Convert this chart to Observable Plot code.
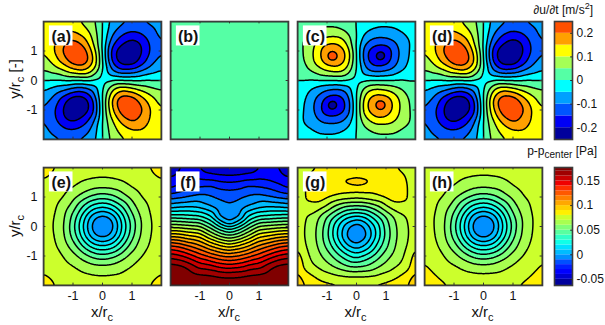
<!DOCTYPE html>
<html><head><meta charset="utf-8">
<script src="https://cdn.jsdelivr.net/npm/d3@7"></script>
<script src="https://cdn.jsdelivr.net/npm/@observablehq/plot@0.6"></script>
<style>
html,body{margin:0;padding:0;background:#fff;overflow:hidden}
#page{position:relative;width:605px;height:325px;font-family:"Liberation Sans",sans-serif;color:#111}
#page svg{position:absolute}
.lab{position:absolute;white-space:nowrap;line-height:1;font-size:15px}
.lab sub{font-size:11px;vertical-align:-4px;line-height:0}
.ttl{position:absolute;white-space:nowrap;line-height:1;font-size:12px;text-align:right}
.ttl sub{font-size:10px;vertical-align:-3px;line-height:0}
.ttl sup{font-size:9px;vertical-align:5px;line-height:0}
</style></head><body><div id="page"></div>
<script>
const xNodes=[-2,-5/3,-4/3,-1,-2/3,-1/3,0,1/3,2/3,1,4/3,5/3,2];
const yNodes=[2,5/3,4/3,1,2/3,1/3,0,-1/3,-2/3,-1,-4/3,-5/3,-2];
const yNodesG=[2,5/3,1.5,4/3,1,2/3,1/3,0,-1/3,-2/3,-1,-4/3,-5/3,-2];
const tickValues=[-1,0,1];
const accelThresholds=[-.3,-.2,-.15,-.1,-.05,0,.05,.1,.15,.2];
const accelColors=["#00009c","#0000f5","#0055ff","#00a0ff","#00ffff","#55ffa5","#a5ff55","#ffff00","#ffa000","#ff5000"];
const pressThresholds=[-.07,-.05,-.04,-.03,-.02,-.01,0,.01,.02,.03,.04,.05,.06,.07,.08,.09,.1,.11,.12,.13,.14,.15,.16,.17];
const pressColors=["#00009c","#0000d0","#0000ff","#0020ff","#0050ff","#0090ff","#00bcff","#00e0ff","#10ffe8","#30ffc8","#58ffa0","#80ff78","#a8ff50","#ccff2c","#fff000","#ffd000","#ffa800","#ff8000","#ff5800","#ff3000","#f00000","#c80000","#a00000","#800000"];
const accelTicks=[-.2,-.1,0,.1,.2];
const pressTicks=[-.05,0,.05,.1,.15];

const panelA=[
[.105,.12,.12,.105,.09,.065,0,-.068,-.088,-.097,-.097,-.092,-.082],
[.115,.135,.15,.15,.12,.08,0,-.085,-.13,-.15,-.14,-.11,-.085],
[.11,.14,.185,.215,.18,.1,0,-.125,-.185,-.215,-.19,-.135,-.095],
[.1,.145,.21,.26,.235,.145,0,-.18,-.24,-.26,-.205,-.14,-.101],
[.075,.12,.175,.24,.25,.17,0,-.17,-.24,-.245,-.18,-.115,-.08],
[.05,.065,.095,.135,.16,.11,0,-.105,-.15,-.135,-.1,-.07,-.045],
[0,0,0,0,0,0,0,0,0,0,0,0,0],
[-.045,-.07,-.1,-.135,-.15,-.105,0,.11,.16,.135,.095,.065,.05],
[-.08,-.115,-.18,-.245,-.24,-.17,0,.17,.25,.24,.175,.12,.075],
[-.101,-.14,-.205,-.26,-.24,-.18,0,.145,.235,.26,.21,.145,.1],
[-.095,-.135,-.19,-.215,-.185,-.125,0,.1,.18,.215,.185,.14,.11],
[-.085,-.11,-.14,-.15,-.13,-.085,0,.08,.12,.15,.15,.135,.115],
[-.082,-.092,-.097,-.097,-.088,-.068,0,.065,.09,.105,.12,.12,.105]];
const panelAPeakX=[-.85,.85,-.85,.85];
const panelAPeakY=[.85,.9,-.9,-.85];
const panelAPeakV=[.265,-.265,-.265,.265];

const panelB=[[.02,.02],[.02,.02]];

const panelC=[
[.02,.03,.038,.04,.038,.025,0,-.025,-.038,-.04,-.038,-.03,-.02],
[.028,.042,.055,.058,.058,.045,0,-.045,-.058,-.058,-.055,-.042,-.028],
[.032,.065,.105,.135,.14,.09,0,-.09,-.125,-.125,-.095,-.065,-.032],
[.032,.063,.13,.19,.195,.15,0,-.15,-.19,-.19,-.125,-.06,-.032],
[.03,.06,.125,.19,.195,.15,0,-.15,-.19,-.18,-.115,-.055,-.03],
[.02,.04,.075,.105,.125,.095,0,-.095,-.125,-.105,-.075,-.04,-.02],
[0,0,0,0,0,0,0,0,0,0,0,0,0],
[-.02,-.04,-.075,-.105,-.125,-.095,0,.095,.125,.105,.075,.04,.02],
[-.03,-.055,-.115,-.18,-.19,-.15,0,.15,.195,.19,.125,.06,.03],
[-.032,-.06,-.125,-.19,-.19,-.15,0,.15,.195,.19,.13,.063,.032],
[-.032,-.065,-.095,-.125,-.125,-.09,0,.09,.14,.135,.105,.065,.032],
[-.028,-.042,-.055,-.058,-.058,-.045,0,.045,.058,.058,.055,.042,.028],
[-.02,-.03,-.038,-.04,-.038,-.025,0,.025,.038,.04,.038,.03,.02]];
const panelCPeakX=[-.8,.8,-.8,.8];
const panelCPeakY=[.8,.8,-.8,-.8];
const panelCPeakV=[.285,-.29,-.29,.285];

const panelD=[
[.106,.122,.122,.106,.09,.065,0,-.068,-.09,-.1,-.098,-.092,-.08],
[.116,.137,.152,.151,.12,.08,0,-.086,-.132,-.152,-.141,-.11,-.085],
[.11,.142,.188,.218,.182,.1,0,-.125,-.187,-.218,-.192,-.135,-.095],
[.1,.145,.212,.262,.237,.145,0,-.18,-.242,-.262,-.207,-.14,-.1],
[.074,.12,.176,.242,.251,.17,0,-.17,-.241,-.246,-.18,-.115,-.08],
[.05,.065,.095,.135,.16,.11,0,-.105,-.15,-.135,-.1,-.07,-.045],
[0,0,0,0,0,0,0,0,0,0,0,0,0],
[-.045,-.07,-.1,-.135,-.15,-.105,0,.11,.16,.135,.095,.065,.05],
[-.08,-.115,-.18,-.246,-.241,-.17,0,.17,.251,.242,.176,.12,.074],
[-.1,-.14,-.207,-.262,-.242,-.18,0,.145,.237,.262,.212,.145,.1],
[-.095,-.135,-.192,-.218,-.187,-.125,0,.1,.182,.218,.188,.142,.11],
[-.085,-.11,-.141,-.152,-.132,-.086,0,.08,.12,.151,.152,.137,.116],
[-.08,-.092,-.098,-.1,-.09,-.068,0,.065,.09,.106,.122,.122,.106]];
const panelDPeakX=[-.85,.85,-.85,.85];
const panelDPeakY=[.85,.9,-.9,-.85];
const panelDPeakV=[.268,-.268,-.268,.268];

const panelE=[
[.084,.0805,.0785,.0775,.0762,.075,.0748,.075,.0762,.0775,.0785,.0805,.084],
[.0805,.0785,.0765,.0743,.072,.071,.0703,.071,.072,.0743,.0765,.0785,.0805],
[.0785,.0765,.0735,.0703,.0655,.0625,.0615,.0625,.0655,.0703,.0735,.0765,.0785],
[.0775,.0743,.0703,.0635,.0555,.047,.043,.047,.0555,.0635,.0703,.0743,.0775],
[.0762,.072,.0655,.0555,.039,.025,.02,.025,.039,.0555,.0655,.072,.0762],
[.075,.071,.0625,.047,.025,.0025,-.0055,.0025,.025,.047,.0625,.071,.075],
[.0748,.0703,.0615,.043,.02,-.0055,-.009,-.0055,.02,.043,.0615,.0703,.0748],
[.075,.071,.0625,.047,.025,.0025,-.0055,.0025,.025,.047,.0625,.071,.075],
[.0762,.072,.0655,.0555,.039,.025,.02,.025,.039,.0555,.0655,.072,.0762],
[.0775,.0743,.0703,.0635,.0555,.047,.043,.047,.0555,.0635,.0703,.0743,.0775],
[.0785,.0765,.0735,.0703,.0655,.0625,.0615,.0625,.0655,.0703,.0735,.0765,.0785],
[.0805,.0785,.0765,.0743,.072,.071,.0703,.071,.072,.0743,.0765,.0785,.0805],
[.084,.0805,.0785,.0775,.0762,.075,.0748,.075,.0762,.0775,.0785,.0805,.084]];
const panelEExtraX=[.17];
const panelEExtraY=[.17];
const panelEExtraV=[-.0065];

const panelF=[
[-.05,-.04,-.037,-.041,-.048,-.051,-.052,-.051,-.048,-.041,-.037,-.04,-.05],
[-.04,-.035,-.033,-.032,-.034,-.036,-.037,-.036,-.034,-.032,-.033,-.035,-.04],
[-.0315,-.027,-.022,-.0195,-.018,-.022,-.0235,-.022,-.018,-.0195,-.022,-.027,-.0315],
[-.0145,-.012,-.009,-.0065,-.0085,-.0115,-.0128,-.0115,-.0085,-.0065,-.009,-.012,-.0145],
[.0066,.009,.01,.0075,.0015,-.0056,-.0085,-.0056,.0015,.0075,.01,.009,.0066],
[.036,.035,.033,.0315,.0225,-.001,-.004,-.001,.0225,.0315,.033,.035,.036],
[.0664,.0655,.063,.0608,.0465,.029,.0178,.029,.0465,.0608,.063,.0655,.0664],
[.0993,.097,.092,.0878,.073,.06,.0525,.06,.073,.0878,.092,.097,.0993],
[.132,.128,.12,.112,.1012,.0925,.0863,.0925,.1012,.112,.12,.128,.132],
[.156,.152,.144,.135,.1277,.1208,.1173,.1208,.1277,.135,.144,.152,.156],
[.174,.172,.165,.1557,.1525,.1465,.1438,.1465,.1525,.1557,.165,.172,.174],
[.178,.177,.175,.172,.171,.1685,.1675,.1685,.171,.172,.175,.177,.178],
[.178,.178,.178,.178,.178,.178,.178,.178,.178,.178,.178,.178,.178]];
const panelFExtraX=[0];
const panelFExtraY=[.16];
const panelFExtraV=[-.001];

const panelG=[
[.068,.076,.08,.0825,.0835,.084,.084,.084,.0835,.0825,.08,.076,.068],
[.069,.081,.085,.086,.087,.088,.0885,.088,.087,.086,.085,.081,.069],
[.0695,.082,.086,.087,.088,.0935,.098,.0935,.088,.087,.086,.082,.0695],
[.07,.083,.087,.0865,.0855,.086,.0865,.086,.0855,.0865,.087,.083,.07],
[.072,.0825,.085,.082,.078,.0755,.0735,.0755,.078,.082,.085,.0825,.072],
[.074,.077,.0765,.068,.056,.048,.047,.048,.056,.068,.0765,.077,.074],
[.076,.0695,.062,.05,.036,.022,.0165,.022,.036,.05,.062,.0695,.076],
[.0765,.0675,.06,.044,.022,.0025,-.0086,.0025,.022,.044,.06,.0675,.0765],
[.077,.067,.0595,.0425,.02,-.002,-.014,-.002,.02,.0425,.0595,.067,.077],
[.0793,.0685,.061,.0475,.03,.012,.0035,.012,.03,.0475,.061,.0685,.0793],
[.0847,.071,.0645,.0555,.044,.033,.0245,.033,.044,.0555,.0645,.071,.0847],
[.09,.0725,.069,.063,.0565,.0495,.047,.0495,.0565,.063,.069,.0725,.09],
[.093,.084,.0775,.0735,.0705,.069,.0685,.069,.0705,.0735,.0775,.084,.093],
[.096,.0885,.085,.083,.082,.0815,.0815,.0815,.082,.083,.085,.0885,.096]];

const panelH=[
[.0785,.077,.076,.075,.0745,.074,.0738,.074,.0745,.075,.076,.077,.0785],
[.077,.076,.0745,.0725,.0705,.0695,.069,.0695,.0705,.0725,.0745,.076,.077],
[.076,.0745,.0725,.0695,.065,.062,.061,.062,.065,.0695,.0725,.0745,.076],
[.0755,.073,.0695,.063,.055,.047,.043,.047,.055,.063,.0695,.073,.0755],
[.075,.0715,.065,.055,.039,.025,.02,.025,.039,.055,.065,.0715,.075],
[.0745,.0705,.062,.047,.025,.0025,-.0055,.0025,.025,.047,.062,.0705,.0745],
[.0745,.0705,.0615,.043,.02,-.0055,-.015,-.0055,.02,.043,.0615,.0705,.0745],
[.075,.071,.0625,.047,.025,.0025,-.0055,.0025,.025,.047,.0625,.071,.075],
[.0765,.0725,.0655,.0555,.039,.025,.02,.025,.039,.0555,.0655,.0725,.0765],
[.0785,.0745,.0705,.0635,.0555,.047,.043,.047,.0555,.0635,.0705,.0745,.0785],
[.081,.0775,.074,.071,.0665,.0635,.0625,.0635,.0665,.071,.074,.0775,.081],
[.0835,.0805,.0775,.0755,.0735,.0725,.072,.0725,.0735,.0755,.0775,.0805,.0835],
[.087,.0835,.081,.0795,.0785,.078,.0775,.078,.0785,.0795,.081,.0835,.087]];
const panelHExtraX=[.17];
const panelHExtraY=[.17];
const panelHExtraV=[-.0065];

const labelBoxX=[-1.8,-1];
const labelBoxY=[1.17,1.85];
const labelPos=[-1.4,1.49];

const page=document.getElementById("page");
const ml=40,mr=6,mt=6,mb=30,side=118;
const hyphen=d=>String(d);

function grid(rows,xs,ys,ex=[],ey=[],ev=[]){
  const pts=[];
  rows.forEach((r,j)=>r.forEach((z,i)=>pts.push({x:xs[i],y:ys[j],z})));
  ex.forEach((x,i)=>pts.push({x,y:ey[i],z:ev[i]}));
  return pts;
}
function panel(pts,{letter,left,top,thresholds,colors,showX,showY,blur=3}){
  const fig=Plot.plot({
    width:side+ml+mr,height:side+mt+mb,marginLeft:ml,marginRight:mr,marginTop:mt,marginBottom:mb,
    style:{background:"transparent",fontFamily:"Liberation Sans",fontSize:"12.5px",color:"#111"},
    x:{domain:[-2,2],axis:null},
    y:{domain:[-2,2],axis:null},
    color:{type:"threshold",domain:thresholds.slice(1),range:colors},
    marks:[
      Plot.contour(pts,{x:"x",y:"y",fill:"z",interpolate:"barycentric",pixelSize:1,blur,thresholds,stroke:"#000",strokeWidth:1.5,clip:true}),
      Plot.ruleX(tickValues,{y1:-2,y2:-1.92,stroke:"#333"}),
      Plot.ruleX(tickValues,{y1:1.92,y2:2,stroke:"#333"}),
      Plot.ruleY(tickValues,{x1:-2,x2:-1.92,stroke:"#333"}),
      Plot.ruleY(tickValues,{x1:1.92,x2:2,stroke:"#333"}),
      Plot.rect([{}],{x1:()=>labelBoxX[0],x2:()=>labelBoxX[1],y1:()=>labelBoxY[0],y2:()=>labelBoxY[1],fill:"white"}),
      Plot.text([letter],{x:()=>labelPos[0],y:()=>labelPos[1],text:d=>d,fontWeight:"bold",fontSize:16,fill:"#111"}),
      Plot.frame({stroke:"#3c3c3c",strokeWidth:1.6}),
      showX?Plot.axisX(tickValues,{anchor:"bottom",tickSize:0,tickPadding:6,label:null,tickFormat:hyphen}):null,
      showY?Plot.axisY(tickValues,{anchor:"left",tickSize:0,tickPadding:6,label:null,tickFormat:hyphen}):null
    ]
  });
  fig.style.left=(left-ml)+"px";
  fig.style.top=(top-mt)+"px";
  page.appendChild(fig);
}
function colorbar(thresholds,colors,domain,ticks,top){
  const tops=thresholds.slice(1).concat([domain[1]+.01]);
  const bands=thresholds.map((t,i)=>({lo:t,hi:tops[i]}));
  const fig=Plot.plot({
    width:18+6+27+6,height:side+mt+mb,marginLeft:6,marginRight:33,marginTop:mt,marginBottom:mb,
    style:{background:"transparent",fontFamily:"Liberation Sans",fontSize:"12px",color:"#111"},
    x:{domain:[0,1],axis:null},
    y:{domain,axis:null},
    color:{type:"threshold",domain:thresholds.slice(1),range:colors},
    marks:[
      Plot.rectY(bands,{x1:()=>0,x2:()=>1,y1:"lo",y2:"hi",fill:"lo",clip:true}),
      Plot.ruleY(ticks,{x1:.9,x2:1,stroke:"#222"}),
      Plot.frame({stroke:"#3c3c3c",strokeWidth:1.6}),
      Plot.axisY(ticks,{anchor:"right",tickSize:0,tickPadding:4,label:null,tickFormat:hyphen})
    ]
  });
  fig.style.left=(554-6)+"px";
  fig.style.top=(top-mt)+"px";
  page.appendChild(fig);
}
const colLeft=[43,170,296.5,423.5];
const topRow={top:21,thresholds:accelThresholds,colors:accelColors};
const botRow={top:167,thresholds:pressThresholds,colors:pressColors,showX:true};
panel(grid(panelA,xNodes,yNodes,panelAPeakX,panelAPeakY,panelAPeakV),{...topRow,letter:"(a)",left:colLeft[0],showY:true});
panel(grid(panelB,[-2,2],[2,-2]),{...topRow,letter:"(b)",left:colLeft[1]});
panel(grid(panelC,xNodes,yNodes,panelCPeakX,panelCPeakY,panelCPeakV),{...topRow,letter:"(c)",left:colLeft[2]});
panel(grid(panelD,xNodes,yNodes,panelDPeakX,panelDPeakY,panelDPeakV),{...topRow,letter:"(d)",left:colLeft[3]});
panel(grid(panelE,xNodes,yNodes,panelEExtraX,panelEExtraY,panelEExtraV),{...botRow,letter:"(e)",left:colLeft[0],showY:true});
panel(grid(panelF,xNodes,yNodes,panelFExtraX,panelFExtraY,panelFExtraV),{...botRow,letter:"(f)",left:colLeft[1],blur:2});
panel(grid(panelG,xNodes,yNodesG),{...botRow,letter:"(g)",left:colLeft[2],blur:2.5});
panel(grid(panelH,xNodes,yNodes,panelHExtraX,panelHExtraY,panelHExtraV),{...botRow,letter:"(h)",left:colLeft[3]});
colorbar(accelThresholds,accelColors,[-.25,.25],accelTicks,21);
colorbar(pressThresholds,pressColors,[-.0625,.1775],pressTicks,167);

function html(cls,markup,style){
  const d=document.createElement("div");
  d.className=cls;d.innerHTML=markup;d.setAttribute("style",style);page.appendChild(d);
}
colLeft.forEach(l=>html("lab","x/r<sub>c</sub>",`left:${l+side/2}px;top:304px;transform:translateX(-50%)`));
html("lab","y/r<sub>c</sub> [-]","left:14px;top:79px;transform:translate(-50%,-50%) rotate(-90deg)");
html("lab","y/r<sub>c</sub>","left:14px;top:226px;transform:translate(-50%,-50%) rotate(-90deg)");
html("ttl","∂u/∂t [m/s<sup>2</sup>]","right:12px;top:4px");
html("ttl","p-p<sub>center</sub> [Pa]","right:8px;top:145px");
</script></body></html>
